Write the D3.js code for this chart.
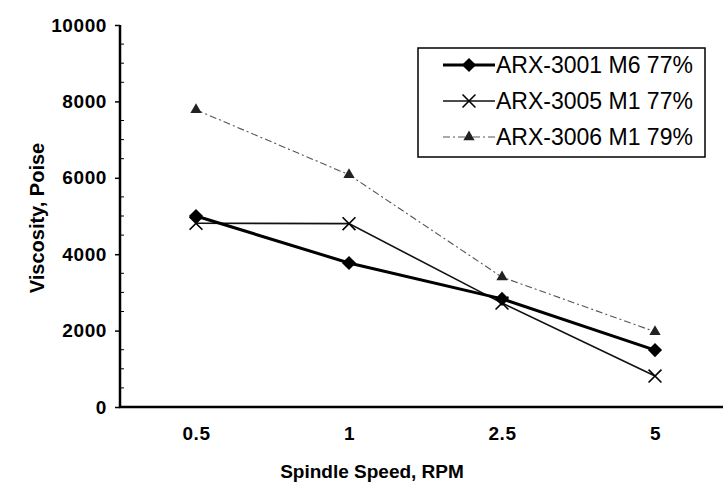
<!DOCTYPE html>
<html>
<head>
<meta charset="utf-8">
<script src="https://cdn.jsdelivr.net/npm/d3@7/dist/d3.min.js"></script>
<style>
  html, body { margin: 0; padding: 0; background: #fff; }
  svg { display: block; font-family: "Liberation Sans", Arial, sans-serif; }
</style>
</head>
<body>
<svg id="chart" width="723" height="485"></svg>
<script>
// Viscosity vs spindle speed, three resin samples.
const speeds = ['0.5', '1', '2.5', '5'];
const yTicks = [0, 2000, 4000, 6000, 8000, 10000];
const seriesNames = ['ARX-3001 M6 77%', 'ARX-3005 M1 77%', 'ARX-3006 M1 79%'];
const arx3001 = [5000, 3770, 2830, 1490];
const arx3005 = [4810, 4800, 2720, 810];
const arx3006 = [7780, 6080, 3400, 1970];

const FONT = '"Liberation Sans", Arial, sans-serif';
const svg = d3.select('#chart');
const margin = { left: 120, top: 25, bottom: 78 };
const H = 485;

const x = d3.scalePoint().domain(speeds).range([196, 655]);
const y = d3.scaleLinear().domain([0, 10000]).range([H - margin.bottom, margin.top]);

// y axis: major ticks out, minor ticks in
const yAxis = svg.append('g').attr('transform', `translate(${margin.left},0)`);
yAxis.call(d3.axisLeft(y).tickValues(yTicks).tickSize(5).tickPadding(8).tickFormat(d3.format('d')));
yAxis.select('.domain').remove();
yAxis.selectAll('text')
  .attr('font-size', 19).attr('font-weight', 'bold').attr('letter-spacing', 0.6)
  .attr('font-family', FONT).attr('fill', '#000');
yAxis.selectAll('line').attr('stroke', '#000').attr('stroke-width', 1.5);
const minor = d3.range(500, 10000, 500).filter(v => v % 2000 !== 0);
yAxis.selectAll('.minor').data(minor).enter().append('line')
  .attr('x1', 0).attr('x2', 4)
  .attr('y1', d => y(d)).attr('y2', d => y(d))
  .attr('stroke', '#000').attr('stroke-width', 1);
svg.append('line')
  .attr('x1', margin.left).attr('x2', margin.left)
  .attr('y1', y(10000)).attr('y2', y(0) + 1)
  .attr('stroke', '#000').attr('stroke-width', 2.5);

// x axis: baseline only, labels below
svg.append('line')
  .attr('x1', margin.left - 1).attr('x2', 723)
  .attr('y1', y(0)).attr('y2', y(0))
  .attr('stroke', '#000').attr('stroke-width', 2.5);
const xAxis = svg.append('g').attr('transform', `translate(0,${y(0)})`);
xAxis.call(d3.axisBottom(x).tickSize(0).tickPadding(20));
xAxis.select('.domain').remove();
xAxis.selectAll('text')
  .attr('font-size', 19).attr('font-weight', 'bold').attr('letter-spacing', 0.6)
  .attr('font-family', FONT).attr('fill', '#000');

// axis titles
svg.append('text')
  .attr('x', 372).attr('y', 478)
  .attr('text-anchor', 'middle').attr('font-size', 19).attr('font-weight', 'bold')
  .text('Spindle Speed, RPM');
svg.append('text')
  .attr('transform', 'translate(44,218) rotate(-90)')
  .attr('text-anchor', 'middle').attr('font-size', 20).attr('font-weight', 'bold')
  .text('Viscosity, Poise');

const line = d3.line().x((d, i) => x(speeds[i])).y(d => y(d));

const styles = [
  { data: arx3001, stroke: '#000', width: 3, dash: null, marker: 'diamond' },
  { data: arx3005, stroke: '#111', width: 1.6, dash: null, marker: 'cross' },
  { data: arx3006, stroke: '#555', width: 1.1, dash: '7,3,2,3', marker: 'triangle' },
];

function drawMarker(g, kind, cx, cy) {
  if (kind === 'diamond') {
    g.append('path').attr('d', d3.symbol(d3.symbolSquare, 100)())
      .attr('transform', `translate(${cx},${cy}) rotate(45)`).attr('fill', '#000');
  } else if (kind === 'cross') {
    g.append('path').attr('d', d3.symbol(d3.symbolX, 110)())
      .attr('transform', `translate(${cx},${cy})`)
      .attr('fill', 'none').attr('stroke', '#000').attr('stroke-width', 1.6);
  } else {
    g.append('path').attr('d', d3.symbol(d3.symbolTriangle, 55)())
      .attr('transform', `translate(${cx},${cy})`).attr('fill', '#222');
  }
}

// draw series (triangle series behind)
[2, 1, 0].forEach(k => {
  const s = styles[k];
  svg.append('path').datum(s.data)
    .attr('d', line).attr('fill', 'none')
    .attr('stroke', s.stroke).attr('stroke-width', s.width)
    .attr('stroke-dasharray', s.dash);
  const g = svg.append('g');
  s.data.forEach((v, i) => drawMarker(g, s.marker, x(speeds[i]), y(v)));
});

// legend
const legend = svg.append('g');
legend.append('rect')
  .attr('x', 418).attr('y', 48).attr('width', 287).attr('height', 109)
  .attr('fill', '#fff').attr('stroke', '#000').attr('stroke-width', 1.5);
const rowY = [65, 101, 137];
seriesNames.forEach((name, k) => {
  const s = styles[k];
  const ly = rowY[k];
  legend.append('line')
    .attr('x1', 443).attr('x2', 495).attr('y1', ly).attr('y2', ly)
    .attr('stroke', s.stroke).attr('stroke-width', s.width)
    .attr('stroke-dasharray', s.dash);
  drawMarker(legend, s.marker, 469, ly);
  legend.append('text')
    .attr('x', 496).attr('y', ly + 8)
    .attr('font-size', 23).attr('fill', '#000')
    .text(name);
});
</script>
</body>
</html>
